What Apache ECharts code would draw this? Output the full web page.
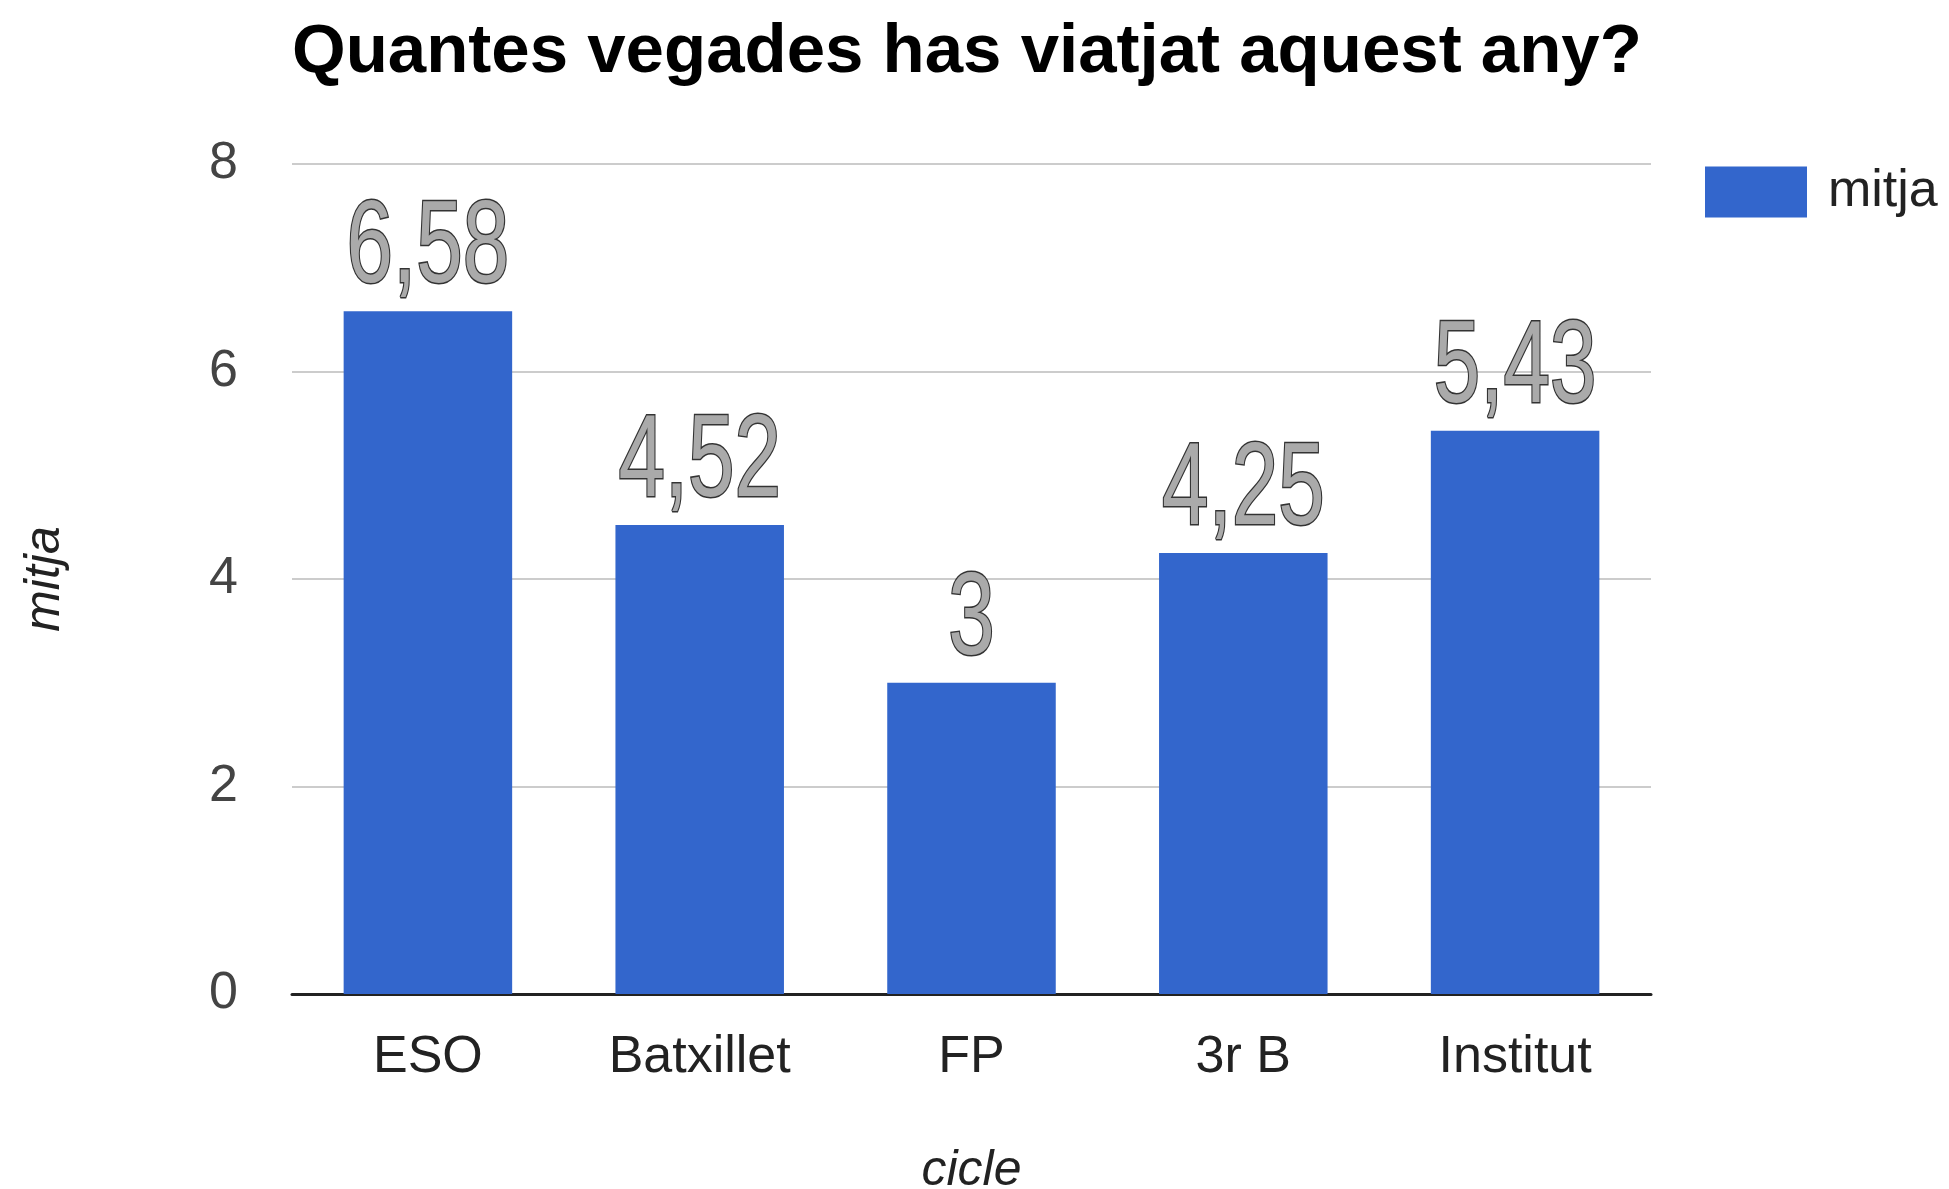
<!DOCTYPE html>
<html>
<head>
<meta charset="utf-8">
<script src="https://cdn.jsdelivr.net/npm/echarts@6/dist/echarts.min.js"></script>
<style>
html,body{margin:0;padding:0;background:#fff;}
#chart{width:1949px;height:1189px;}
</style>
</head>
<body>
<div id="chart"></div>
<script>
const categories = ['ESO', 'Batxillet', 'FP', '3r B', 'Institut'];
const mitjaValues = [6.58, 4.52, 3, 4.25, 5.43];
const yTicks = [0, 2, 4, 6, 8];
const titleText = 'Quantes vegades has viatjat aquest any?';
const seriesName = 'mitja';
const xAxisName = 'cicle';
const yAxisName = 'mitja';

const FONT = '"Liberation Sans", Arial, Helvetica, sans-serif';
const chart = echarts.init(document.getElementById('chart'), null, {renderer: 'canvas'});
chart.setOption({
  backgroundColor: '#ffffff',
  animation: false,
  title: {
    text: titleText,
    left: 287,
    top: 13,
    textStyle: {fontFamily: FONT, fontWeight: 'bold', fontSize: 69, color: '#000'}
  },
  legend: {
    data: [seriesName],
    left: 1700,
    top: 161,
    itemWidth: 102,
    itemHeight: 51,
    itemGap: 22,
    icon: 'rect',
    textStyle: {fontFamily: FONT, fontSize: 52, color: '#222', padding: [0, 0, 0, 16]}
  },
  grid: {left: 292, right: 298, top: 164, bottom: 195, containLabel: false, outerBoundsMode: 'none'},
  xAxis: {
    type: 'category',
    data: categories,
    name: xAxisName,
    nameLocation: 'middle',
    nameGap: 152,
    nameTextStyle: {fontFamily: FONT, fontStyle: 'italic', fontSize: 50, color: '#222'},
    axisLine: {lineStyle: {color: '#222', width: 3}},
    axisTick: {show: false},
    axisLabel: {fontFamily: FONT, fontSize: 52, color: '#222', margin: 38}
  },
  yAxis: {
    type: 'value',
    min: 0,
    max: 8,
    interval: 2,
    name: yAxisName,
    nameLocation: 'middle',
    nameGap: 222,
    nameTextStyle: {fontFamily: FONT, fontStyle: 'italic', fontSize: 50, color: '#222'},
    axisLine: {show: false},
    axisTick: {show: false},
    splitLine: {lineStyle: {color: '#cccccc', width: 2}},
    axisLabel: {fontFamily: FONT, fontSize: 52, color: '#444', margin: 54,
      formatter: v => yTicks.includes(v) ? String(v) : ''}
  },
  series: [{
    name: seriesName,
    type: 'bar',
    data: mitjaValues,
    barCategoryGap: '38%',
    itemStyle: {color: '#3366cc'}
  }, {
    name: 'labels',
    type: 'custom',
    silent: true,
    data: mitjaValues.map((v, i) => [i, v]),
    encode: {x: 0, y: 1},
    renderItem: function (params, api) {
      const pt = api.coord([api.value(0), api.value(1)]);
      const txt = String(api.value(1)).replace('.', ',');
      return {
        type: 'text',
        x: pt[0],
        y: pt[1] - 61,
        scaleX: 0.72,
        style: {
          text: txt,
          font: '116px ' + FONT,
          fill: '#aaaaaa',
          stroke: '#333333',
          lineWidth: 3,
          align: 'center',
          verticalAlign: 'middle'
        }
      };
    }
  }]
});
</script>
</body>
</html>
